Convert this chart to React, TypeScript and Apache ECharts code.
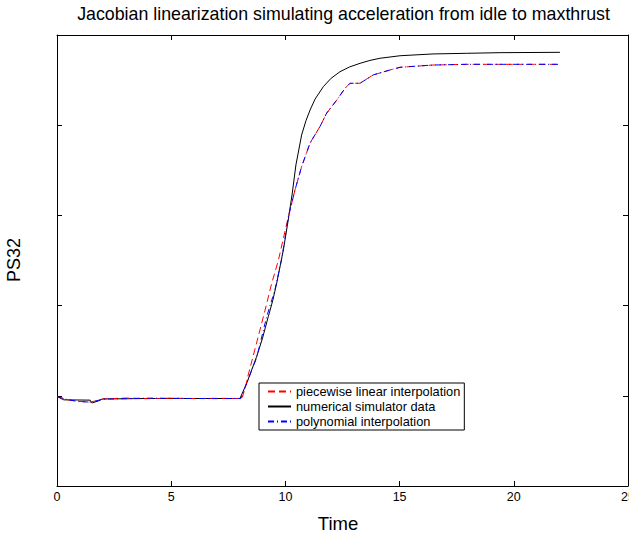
import React, { useEffect, useRef } from "react";
import * as echarts from "echarts";

const titleText = "Jacobian linearization simulating acceleration from idle to maxthrust";
const seriesNames = ["piecewise linear interpolation", "numerical simulator data", "polynomial interpolation"];

const simT = [0, 0.3, 1.45, 1.5, 1.55, 1.8, 2.0, 4, 6, 8.01, 8.31, 8.74, 9.0, 9.25, 9.45, 9.62, 9.91, 10.11, 10.29, 10.46, 10.71, 10.9, 11.08, 11.3, 11.66, 12.0, 12.39, 12.8, 13.27, 13.7, 14.14, 15.02, 16.46, 17.94, 19.4, 22.02];
const simV = [0.992, 0.955, 0.952, 0.925, 0.922, 0.942, 0.965, 0.97, 0.97, 0.97, 1.142, 1.434, 1.64, 1.877, 2.06, 2.25, 2.616, 2.927, 3.226, 3.559, 3.891, 4.05, 4.168, 4.29, 4.427, 4.52, 4.593, 4.645, 4.686, 4.718, 4.742, 4.77, 4.79, 4.797, 4.804, 4.808];

const pwlT = [0, 0.5, 1.0, 1.5, 2.0, 3, 4, 5, 6, 7, 8.1, 8.28, 8.33, 8.81, 9.11, 9.4, 9.69, 10.13, 10.42, 10.71, 11.08, 11.51, 11.81, 12.25, 12.61, 12.83, 13.27, 13.84, 14.58, 15.02, 16.46, 17.94, 22.02];
const pwlV = [0.99, 0.953, 0.937, 0.931, 0.965, 0.975, 0.968, 0.974, 0.969, 0.972, 0.97, 1.13, 1.19, 1.655, 1.95, 2.247, 2.5, 2.986, 3.282, 3.54, 3.803, 3.983, 4.135, 4.279, 4.409, 4.465, 4.465, 4.557, 4.612, 4.642, 4.667, 4.675, 4.675];

const polyT = [0, 0.5, 1, 1.5, 2, 3, 4, 5, 6, 7, 8.05, 8.31, 8.74, 9.18, 9.54, 9.84, 10.13, 10.42, 10.71, 11.08, 11.51, 11.81, 12.25, 12.61, 12.83, 13.27, 13.84, 14.58, 15.02, 16.46, 17.94, 22.02];
const polyV = [0.99, 0.955, 0.935, 0.93, 0.963, 0.968, 0.974, 0.972, 0.97, 0.969, 0.97, 1.142, 1.42, 1.877, 2.173, 2.52, 2.986, 3.282, 3.54, 3.803, 3.983, 4.135, 4.279, 4.409, 4.465, 4.465, 4.557, 4.612, 4.642, 4.667, 4.675, 4.675];

const pair = (t: number[], v: number[]) => t.map((x, i) => [x, v[i]]);

const FONT = "Liberation Sans, Arial, Helvetica, sans-serif";

export default function App() {
  const ref = useRef<HTMLDivElement>(null);
  useEffect(() => {
    if (!ref.current) return;
    const chart = echarts.init(ref.current, undefined, { renderer: "svg" });
    const axisCommon = {
      axisLine: { show: true, onZero: false, lineStyle: { color: "#000", width: 1 } },
      axisTick: { show: true, inside: true, length: 5, lineStyle: { color: "#000" } },
      splitLine: { show: false },
    };
    chart.setOption({
      animation: false,
      backgroundColor: "#fff",
      title: {
        text: titleText,
        left: 338.5,
        textAlign: "center",
        top: 0,
        textStyle: { fontFamily: FONT, fontSize: 17.8, fontWeight: "normal", color: "#000" },
      },
      grid: { left: 57, right: 1, top: 35, bottom: 47, containLabel: false, outerBoundsMode: "none" },
      xAxis: [
        {
          type: "value", min: 0, max: 25, interval: 5, position: "bottom",
          ...axisCommon,
          axisLabel: { show: true, color: "#000", fontFamily: FONT, fontSize: 12.5, margin: 4 },
        },
        {
          type: "value", min: 0, max: 25, interval: 5, position: "top",
          ...axisCommon,
          axisLabel: { show: false },
        },
      ],
      yAxis: [
        {
          type: "value", min: 0, max: 5, interval: 1, position: "left",
          ...axisCommon,
          axisLabel: { show: false },
        },
        {
          type: "value", min: 0, max: 5, interval: 1, position: "right",
          ...axisCommon,
          axisLabel: { show: false },
        },
      ],
      legend: {
        orient: "vertical",
        left: 259,
        top: 383,
        data: seriesNames,
        backgroundColor: "#fff",
        borderColor: "#000",
        borderWidth: 1,
        borderRadius: 0,
        padding: [2, 4, 2, 8],
        itemGap: 2,
        itemWidth: 23,
        itemHeight: 8,
        itemStyle: { opacity: 0 },
        textStyle: { fontFamily: FONT, fontSize: 12.8, color: "#000", lineHeight: 13 },
      },
      graphic: [
        {
          type: "text", x: 338, y: 523,
          style: { text: "Time", align: "center", verticalAlign: "middle", fontFamily: FONT, fontSize: 18.5, fill: "#000" },
        },
        {
          type: "text", x: 14, y: 260, rotation: Math.PI / 2,
          style: { text: "PS32", align: "center", verticalAlign: "middle", fontFamily: FONT, fontSize: 18, fill: "#000" },
        },
      ],
      series: [
        {
          name: seriesNames[0], type: "line", data: pair(pwlT, pwlV), symbol: "none",
          lineStyle: { color: "#ff0000", width: 1, type: [7, 4] }, itemStyle: { color: "#ff0000" }, z: 3,
        },
        {
          name: seriesNames[1], type: "line", data: pair(simT, simV), symbol: "none",
          lineStyle: { color: "#000", width: 1, type: "solid" }, itemStyle: { color: "#000" }, z: 2,
        },
        {
          name: seriesNames[2], type: "line", data: pair(polyT, polyV), symbol: "none",
          lineStyle: { color: "#0000ff", width: 1, type: [6, 3, 1, 3] }, itemStyle: { color: "#0000ff" }, z: 4,
        },
      ],
    });
    return () => chart.dispose();
  }, []);
  return <div ref={ref} style={{ position: "fixed", left: 0, top: 0, width: 629, height: 533, background: "#fff" }} />;
}
